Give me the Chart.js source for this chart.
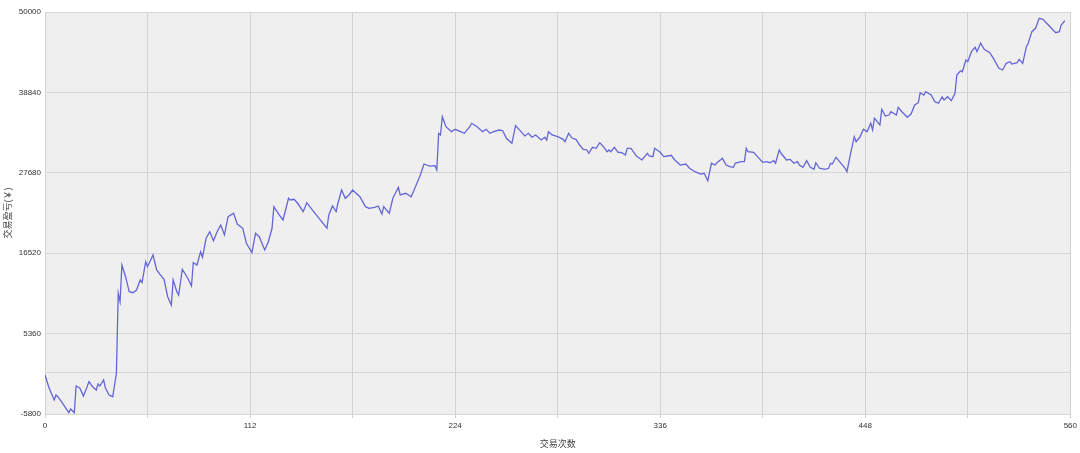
<!DOCTYPE html>
<html lang="zh">
  <head>
    <meta charset="UTF-8" />
    <title>交易盈亏</title>
  </head>
  <style>
    * {
      margin: 0;
      padding: 0;
    }
    body {
      background: #ffffff;
    }
    .chartBox {
      width: 1080px;
      height: 453px;
    }
  </style>
  <body>
    <div class="chartBox">
      <canvas id="myChart" width="1080" height="453"></canvas>
    </div>

    <script src="https://cdn.jsdelivr.net/npm/chart.js"></script>

    <script>
      // data block
      const tradeNo = [
        0, 2, 5, 6, 7, 9, 12, 13, 14, 16, 17, 19, 21, 23, 24, 26, 28, 29, 30, 32,
        33, 35, 37, 39, 40, 41, 42, 44, 46, 48, 50, 52, 53, 55, 56, 59, 61, 63, 65, 67,
        69, 70, 72, 73, 75, 78, 80, 81, 83, 85, 86, 88, 90, 92, 94, 96, 98, 100, 103, 105,
        108, 110, 113, 115, 117, 120, 122, 124, 125, 128, 130, 133, 134, 136, 138, 141, 143, 146, 150, 154,
        155, 157, 159, 160, 162, 164, 166, 168, 172, 175, 177, 180, 182, 184, 185, 188, 190, 193, 194, 197,
        200, 202, 205, 207, 210, 213, 214, 215, 216, 217, 219, 222, 224, 227, 229, 232, 233, 236, 239, 241,
        243, 245, 248, 250, 252, 255, 257, 260, 262, 264, 266, 268, 271, 273, 274, 275, 277, 280, 283, 284,
        286, 288, 290, 292, 294, 296, 297, 299, 301, 303, 305, 307, 308, 309, 311, 313, 315, 317, 318, 320,
        322, 323, 326, 329, 330, 332, 333, 336, 338, 340, 342, 344, 347, 350, 352, 355, 358, 360, 362, 364,
        366, 367, 370, 372, 374, 376, 377, 380, 382, 383, 384, 387, 390, 392, 394, 396, 398, 399, 401, 402,
        405, 407, 409, 411, 412, 414, 416, 418, 420, 421, 423, 426, 428, 429, 430, 432, 434, 437, 438, 440,
        442, 443, 445, 447, 449, 451, 452, 453, 456, 457, 459, 461, 462, 465, 466, 468, 471, 473, 475, 477,
        478, 480, 481, 484, 486, 488, 490, 491, 493, 495, 497, 498, 500, 501, 503, 504, 506, 508, 509, 511,
        513, 516, 518, 521, 523, 525, 527, 528, 531, 532, 534, 536, 537, 539, 541, 543, 545, 548, 551, 552,
        554, 555, 557
      ];
      const profit = [
        -380, -2010, -3850, -3160, -3400, -4090, -5240, -5620, -5100, -5620, -1910, -2190, -3300, -2010, -1310, -2010, -2470, -1630, -1910, -1080,
        -2190, -3160, -3400, -150, 10960, 9790, 14880, 13260, 11180, 11040, 11410, 12800, 12430, 15340, 14650, 16270, 14190, 13500, 12900, 10480,
        9330, 12800, 11180, 10720, 14290, 13040, 11970, 15200, 14880, 16730, 15950, 18590, 19510, 18260, 19510, 20440, 19050, 21590, 22060, 20570,
        19980, 17900, 16590, 19280, 18810, 16970, 18120, 19980, 22980, 21820, 21130, 24140, 23910, 24000, 23450, 22280, 23530, 22520, 21250, 19980,
        21820, 23070, 22280, 23450, 25290, 24140, 24600, 25290, 24360, 22980, 22750, 22890, 23070, 21960, 22980, 22060, 24140, 25670, 24600, 24840,
        24360, 25530, 27380, 28900, 28620, 28670, 28070, 33160, 32930, 35470, 34080, 33390, 33720, 33390, 33160, 34080, 34550, 34080, 33390, 33720,
        33160, 33390, 33620, 33520, 32470, 31780, 34220, 33390, 32790, 33160, 32610, 32930, 32230, 32610, 32230, 33390, 32930, 32690, 32330, 32000,
        33160, 32470, 32330, 31540, 30940, 30850, 30390, 31220, 31080, 31860, 31300, 30610, 30850, 30610, 31220, 30530, 30470, 30150, 31060, 31060,
        30390, 30010, 29460, 30390, 30010, 29920, 31080, 30530, 29920, 30010, 30110, 29460, 28760, 28900, 28310, 27830, 27510, 27610, 26580, 29000,
        28760, 29080, 29690, 28760, 28530, 28440, 29000, 29220, 29220, 31080, 30610, 30530, 29690, 29140, 29220, 29080, 29360, 29000, 30850, 30390,
        29460, 29550, 29000, 29220, 28760, 28440, 29360, 28440, 28170, 29080, 28310, 28170, 28310, 29000, 28900, 29830, 29220, 28310, 27830, 30390,
        32690, 32000, 32610, 33720, 33390, 34550, 33620, 35250, 34320, 36490, 35560, 35700, 36160, 35700, 36770, 36160, 35380, 35840, 37090, 37410,
        38800, 38480, 38940, 38480, 37550, 37330, 38240, 37790, 38240, 37690, 38720, 41260, 41850, 41710, 43340, 43100, 44490, 45100, 44490, 45660,
        44820, 44350, 43570, 42190, 41950, 42880, 43100, 42780, 42960, 43430, 42880, 45180, 45660, 47270, 47740, 49130, 48990, 48200, 47400, 47130,
        47270, 48200, 48790
      ];
      const yTicks = [-5800, 5360, 16520, 27680, 38840, 50000];
      const xTicks = [0, 56, 112, 168, 224, 280, 336, 392, 448, 504, 560];
      const xLabelled = [0, 112, 224, 336, 448, 560];

      const fontFamily = '"Liberation Sans", "Noto Sans CJK SC", sans-serif';

      // plugin block: grey plot background
      const plotBackground = {
        id: "plotBackground",
        beforeDraw(chart) {
          const {
            ctx,
            chartArea: { left, top, width, height }
          } = chart;
          ctx.save();
          ctx.fillStyle = "#efefef";
          ctx.fillRect(left, top, width, height);
          ctx.restore();
        }
      };

      // config block
      const config = {
        type: "line",
        data: {
          datasets: [
            {
              data: tradeNo.map((x, i) => ({ x: x, y: profit[i] })),
              borderColor: "#6565d8",
              borderWidth: 1.3,
              pointRadius: 0,
              tension: 0,
              fill: false
            }
          ]
        },
        options: {
          responsive: false,
          animation: false,
          layout: {
            padding: { left: 0, top: 12, right: 8, bottom: 0 }
          },
          plugins: {
            legend: { display: false },
            tooltip: { enabled: false }
          },
          scales: {
            x: {
              type: "linear",
              min: 0,
              max: 560,
              afterBuildTicks(axis) {
                axis.ticks = xTicks.map((v) => ({ value: v }));
              },
              afterFit(axis) {
                axis.height = 39;
              },
              ticks: {
                autoSkip: false,
                maxRotation: 0,
                padding: 3,
                color: "#333",
                font: { family: fontFamily, size: 8 },
                callback: (v) => (xLabelled.includes(v) ? String(v) : "")
              },
              grid: {
                color: "#d2d2d2",
                lineWidth: 1,
                drawTicks: true,
                tickLength: 4
              },
              border: { display: false },
              title: {
                display: true,
                text: "交易次数",
                color: "#444",
                font: { family: fontFamily, size: 9 },
                padding: { top: 8, bottom: 3 }
              }
            },
            y: {
              type: "linear",
              min: -5800,
              max: 50000,
              afterBuildTicks(axis) {
                axis.ticks = yTicks
                  .concat([0])
                  .sort((a, b) => a - b)
                  .map((v) => ({ value: v }));
              },
              afterFit(axis) {
                axis.width = 45;
              },
              ticks: {
                autoSkip: false,
                padding: 4,
                color: "#333",
                font: { family: fontFamily, size: 8 },
                callback: (v) => (yTicks.includes(v) ? String(v) : "")
              },
              grid: {
                color: "#d6d6d6",
                lineWidth: 1,
                drawTicks: false
              },
              border: { display: false },
              title: {
                display: true,
                text: "交易盈亏(￥)",
                color: "#444",
                font: { family: fontFamily, size: 9 },
                padding: { top: 3, bottom: 0 }
              }
            }
          }
        },
        plugins: [plotBackground]
      };

      // init render block
      const myChart = new Chart(document.getElementById("myChart"), config);
    </script>
  </body>
</html>
